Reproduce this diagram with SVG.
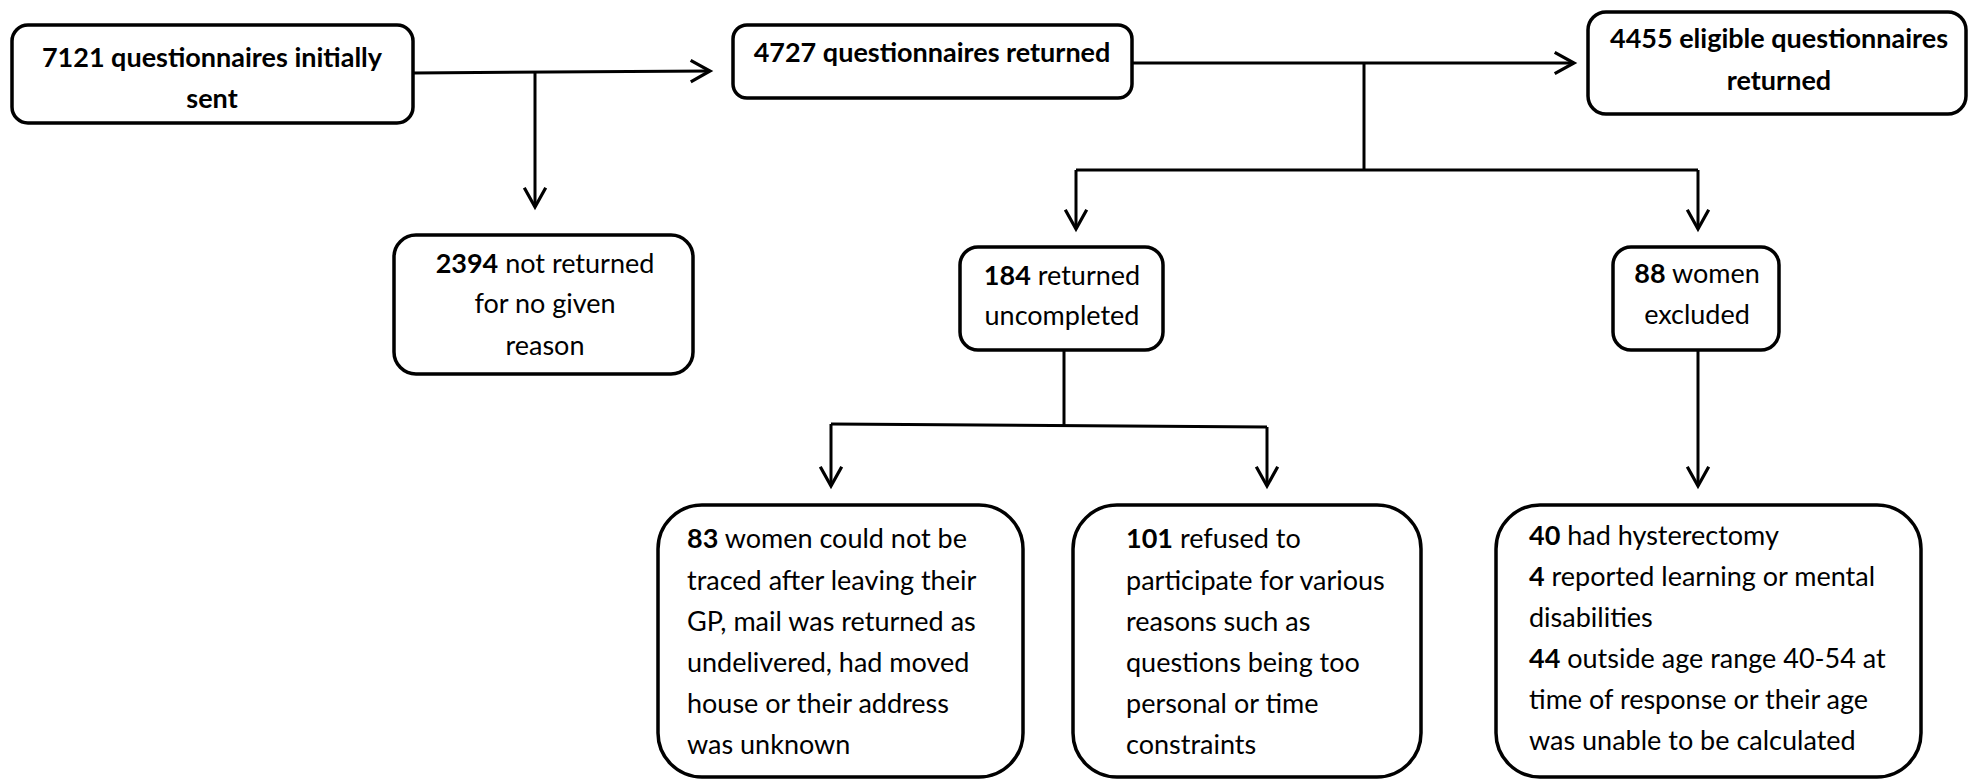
<svg xmlns="http://www.w3.org/2000/svg" width="1968" height="779" viewBox="0 0 1968 779">
<style>
.box{fill:#fff;stroke:#000;stroke-width:3.5}
.ln{fill:none;stroke:#000;stroke-width:3}
text{font-family:Lato,"Open Sans","Liberation Sans",sans-serif;font-size:27px;fill:#000}
.c{text-anchor:middle}
.b{font-weight:bold}
</style>
<defs>
<marker id="ah" markerUnits="userSpaceOnUse" markerWidth="30" markerHeight="30" viewBox="-22 -14 26 28" refX="0" refY="0" orient="auto">
<path d="M-18,-10 L0,0 L-18,10" fill="none" stroke="#000" stroke-width="3"/>
</marker>
</defs>
<rect width="1968" height="779" fill="#fff"/>
<g id="connectors">
<path class="ln" d="M413,73 L710,71" marker-end="url(#ah)"/>
<path class="ln" d="M535,72 L535,207" marker-end="url(#ah)"/>
<path class="ln" d="M1132,63 L1574,63" marker-end="url(#ah)"/>
<path class="ln" d="M1364,63 L1364,170"/>
<path class="ln" d="M1076,170 L1698,170"/>
<path class="ln" d="M1076,170 L1076,229" marker-end="url(#ah)"/>
<path class="ln" d="M1698,170 L1698,229" marker-end="url(#ah)"/>
<path class="ln" d="M1064,350 L1064,425"/>
<path class="ln" d="M831,424 L1267,427"/>
<path class="ln" d="M831,424 L831,486" marker-end="url(#ah)"/>
<path class="ln" d="M1267,427 L1267,486" marker-end="url(#ah)"/>
<path class="ln" d="M1698,350 L1698,486" marker-end="url(#ah)"/>
</g>
<g id="n7121">
<rect class="box" x="12" y="25" width="401" height="98" rx="16"/>
<text class="c b" x="212" y="67">7121 questionnaires initially</text>
<text class="c b" x="212" y="108">sent</text>
</g>
<g id="n2394">
<rect class="box" x="394" y="235" width="299" height="139" rx="22"/>
<text class="c" x="545" y="273"><tspan class="b">2394</tspan> not returned</text>
<text class="c" x="545" y="313">for no given</text>
<text class="c" x="545" y="355">reason</text>
</g>
<g id="n4727">
<rect class="box" x="733" y="25" width="399" height="73" rx="14"/>
<text class="c b" x="932" y="62">4727 questionnaires returned</text>
</g>
<g id="n4455">
<rect class="box" x="1588" y="12" width="378" height="102" rx="18"/>
<text class="c b" x="1779" y="48">4455 eligible questionnaires</text>
<text class="c b" x="1779" y="90">returned</text>
</g>
<g id="n184">
<rect class="box" x="960" y="247" width="203" height="103" rx="18"/>
<text class="c" x="1062" y="285"><tspan class="b">184</tspan> returned</text>
<text class="c" x="1062" y="325">uncompleted</text>
</g>
<g id="n88">
<rect class="box" x="1613" y="247" width="166" height="103" rx="18"/>
<text class="c" x="1697" y="283"><tspan class="b">88</tspan> women</text>
<text class="c" x="1697" y="324">excluded</text>
</g>
<g id="n83">
<rect class="box" x="658" y="505" width="365" height="272" rx="44"/>
<text x="687" y="548"><tspan class="b">83</tspan> women could not be</text>
<text x="687" y="590">traced after leaving their</text>
<text x="687" y="631">GP, mail was returned as</text>
<text x="687" y="672">undelivered, had moved</text>
<text x="687" y="713">house or their address</text>
<text x="687" y="754">was unknown</text>
</g>
<g id="n101">
<rect class="box" x="1073" y="505" width="348" height="272" rx="44"/>
<text x="1126" y="548"><tspan class="b">101</tspan> refused to</text>
<text x="1126" y="590">participate for various</text>
<text x="1126" y="631">reasons such as</text>
<text x="1126" y="672">questions being too</text>
<text x="1126" y="713">personal or time</text>
<text x="1126" y="754">constraints</text>
</g>
<g id="n40">
<rect class="box" x="1496" y="505" width="425" height="272" rx="44"/>
<text x="1529" y="545"><tspan class="b">40</tspan> had hysterectomy</text>
<text x="1529" y="586"><tspan class="b">4</tspan> reported learning or mental</text>
<text x="1529" y="627">disabilities</text>
<text x="1529" y="668"><tspan class="b">44</tspan> outside age range 40-54 at</text>
<text x="1529" y="709">time of response or their age</text>
<text x="1529" y="750">was unable to be calculated</text>
</g>
</svg>
